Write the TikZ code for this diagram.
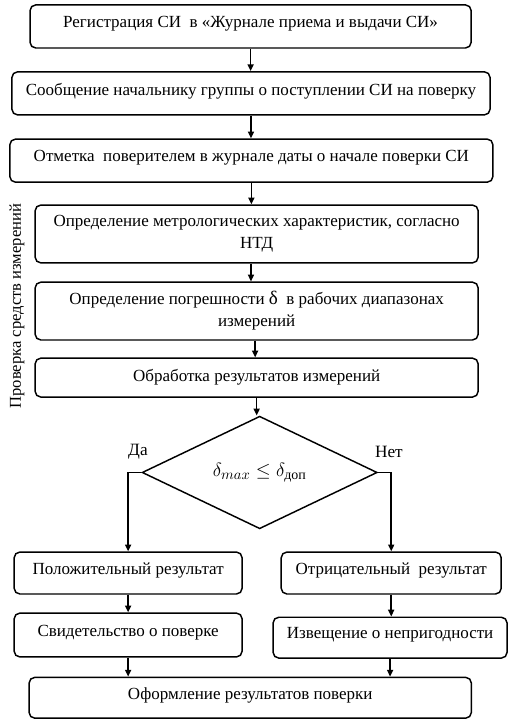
\documentclass[tikz,border=0pt]{standalone}
\usepackage{amsmath}
\usepackage{fontspec}
\setmainfont{Liberation Serif}
\usetikzlibrary{arrows.meta, positioning, calc, shapes.geometric}

\begin{document}
\begin{tikzpicture}[
    box/.style={
        rectangle, rounded corners=1.5mm, draw=black, line width=1.1pt,
        minimum height=11.4mm, inner sep=1mm,
        align=center, font=\fontsize{12.8}{16.5}\selectfont
    },
    oneline/.style={text depth=2.3mm},
    decision/.style={
        diamond, draw=black, line width=1.1pt, inner sep=0pt,
        minimum width=62.2mm, minimum height=24.1mm,
        font=\fontsize{15}{17}\selectfont
    },
    sidelabel/.style={
        rotate=90, font=\fontsize{12.5}{14}\selectfont
    },
    branchlabel/.style={font=\fontsize{13}{15}\selectfont},
    arrow/.style={-{Triangle[length=1.8mm, width=1.6mm]}, line width=1.1pt}
]
\useasboundingbox (0,0) rectangle (13.65,-19.26);

% --- Side label ---
\node[sidelabel] (side) at (0.45, -8.10) {Проверка средств измерений};

% --- Main column ---
\node[box, oneline, minimum width=116.7mm] (reg) at (6.63, -0.70)
    {Регистрация СИ\ \ в «Журнале приема и выдачи СИ»};
\node[box, oneline, minimum width=126.5mm] (msg) at (6.64, -2.47)
    {Сообщение начальнику группы о поступлении СИ на поверку};
\node[box, oneline, minimum width=127.8mm] (mark) at (6.65, -4.25)
    {Отметка\ \ поверителем в журнале даты о начале поверки СИ};
\node[box, minimum width=117.2mm, minimum height=15.3mm] (metro) at (6.79, -6.19)
    {Определение метрологических характеристик, согласно\\НТД};
\node[box, minimum width=117.2mm, minimum height=15.3mm] (err) at (6.79, -8.23)
    {Определение погрешности {\Large δ}\ \ в рабочих диапазонах\\измерений};
\node[box, oneline, text depth=1.2mm, minimum width=117.2mm, minimum height=10.3mm] (proc) at (6.79, -9.99)
    {Обработка результатов измерений};

\draw[arrow] (reg.south) -- (reg.south |- msg.north);
\draw[arrow] (msg.south) -- (msg.south |- mark.north);
\draw[arrow] (mark.south) -- (mark.south |- metro.north);
\draw[arrow] ([xshift=-1.5mm]metro.south) -- ([xshift=-1.5mm]metro.south |- err.north);
\draw[arrow] ([xshift=-0.4mm]err.south) -- ([xshift=-0.4mm]err.south |- proc.north);

% --- Decision ---
\node[decision] (check) at (6.87, -12.50)
    {$\delta_{max} \leq \delta_{\text{доп}}$};
\draw[arrow] (proc.south) -- (proc.south |- check.north);

\node[branchlabel] (yes) at (3.65, -11.96) {Да};
\node[branchlabel] (no) at (10.29, -11.96) {Нет};

% --- Results ---
\node[box, oneline, minimum width=60.3mm, minimum height=11.1mm] (pos) at (3.39, -15.16)
    {Положительный результат};
\node[box, oneline, minimum width=58.2mm, minimum height=11.1mm] (neg) at (10.35, -15.16)
    {Отрицательный\ \ результат};
\node[box, oneline, minimum width=60.3mm, minimum height=11.6mm] (cert) at (3.39, -16.80)
    {Свидетельство о поверке};
\node[box, oneline, minimum width=61.9mm, minimum height=10.8mm] (notice) at (10.32, -16.87)
    {Извещение о непригодности};
\node[box, oneline, minimum width=117.0mm, minimum height=10.8mm] (final) at (6.62, -18.46)
    {Оформление результатов поверки};

\draw[arrow] (check.west) -| (pos.north);
\draw[arrow] (check.east) -| (neg.north);
\draw[arrow] (pos.south) -- (pos.south |- cert.north);
\draw[arrow] (neg.south) -- (neg.south |- notice.north);
\draw[arrow] (cert.south) -- (cert.south |- final.north);
\draw[arrow] (notice.south) -- (notice.south |- final.north);

\end{tikzpicture}
\end{document}
